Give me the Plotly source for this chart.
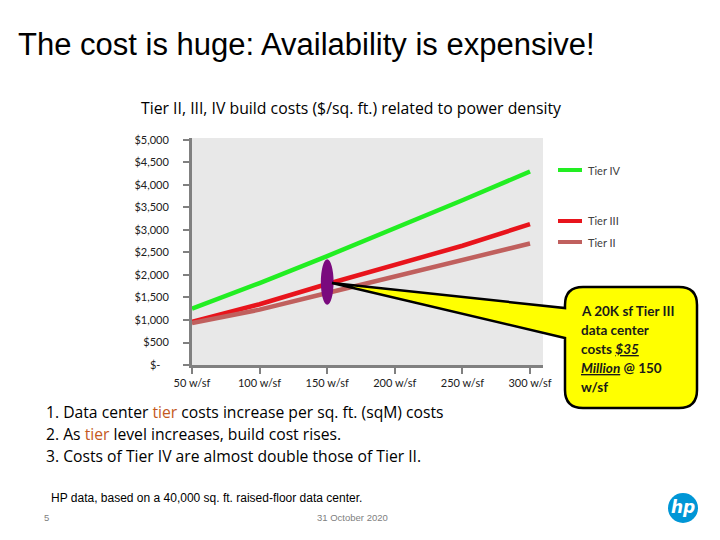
import plotly.graph_objects as go

W, H = 720, 540
def px(x): return x / W
def py(y): return 1 - y / H

power = [50, 100, 150, 200, 250, 300]
tick_labels = ["50 w/sf", "100 w/sf", "150 w/sf", "200 w/sf", "250 w/sf", "300 w/sf"]
tier4 = [1250, 1820, 2420, 3030, 3660, 4300]
tier3 = [960, 1350, 1800, 2230, 2650, 3130]
tier2 = [930, 1230, 1600, 1960, 2330, 2700]
y_ticks = [0, 500, 1000, 1500, 2000, 2500, 3000, 3500, 4000, 4500, 5000]
y_tick_text = ["$-\u00a0\u00a0\u00a0", "$500", "$1,000", "$1,500", "$2,000", "$2,500",
               "$3,000", "$3,500", "$4,000", "$4,500", "$5,000"]

series = [("Tier IV", tier4, "#22EE22", 170),
          ("Tier III", tier3, "#E8141C", 221),
          ("Tier II", tier2, "#C0605E", 242)]

CAL = "Lato, Carlito, Calibri, sans-serif"
OS = "Open Sans, Lato, sans-serif"
fig = go.Figure()
for name, vals, col, _ in series:
    fig.add_trace(go.Scatter(x=power, y=vals, mode="lines", name=name,
                             line=dict(color=col, width=4.5), showlegend=False))

shapes = []
annots = []
# legend
for name, vals, col, ly in series:
    shapes.append(dict(type="line", xref="paper", yref="paper", x0=px(558), x1=px(582),
                       y0=py(ly), y1=py(ly), line=dict(color=col, width=4)))
    annots.append(dict(text=name, xref="paper", yref="paper", x=px(586), y=py(ly),
                       xanchor="left", yanchor="middle", showarrow=False,
                       font=dict(family=CAL, size=11, color="#404040")))

# purple ellipse on the 150 w/sf point
shapes.append(dict(type="circle", xref="x", yref="y", x0=145.3, x1=154.7, y0=1340, y1=2350,
                   fillcolor="#7A0A7E", line=dict(width=0)))

# callout with pointer
r = 18
L, R, T, B = 565, 697, 287, 408
tipx, tipy = 332, 283
def P(x, y): return f"{px(x):.5f},{py(y):.5f}"
path = (f"M {P(tipx, tipy)} L {P(L, 308)} L {P(L, T + r)} Q {P(L, T)} {P(L + r, T)} "
        f"L {P(R - r, T)} Q {P(R, T)} {P(R, T + r)} L {P(R, B - r)} Q {P(R, B)} {P(R - r, B)} "
        f"L {P(L + r, B)} Q {P(L, B)} {P(L, B - r)} L {P(L, 338)} Z")
shapes.append(dict(type="path", xref="paper", yref="paper", path=path,
                   fillcolor="#FFFF00", line=dict(color="#000000", width=2.5)))

callout_lines = ["<b>A 20K sf Tier III</b>", "<b>data center</b>",
                 "<b>costs <i><span style='text-decoration:underline'>$35</span></i></b>",
                 "<b><i><span style='text-decoration:underline'>Million</span></i> @ 150</b>",
                 "<b>w/sf</b>"]
for i, t in enumerate(callout_lines):
    annots.append(dict(text=t, xref="paper", yref="paper", x=px(579), y=py(311 + i * 19),
                       xanchor="left", yanchor="middle", showarrow=False,
                       font=dict(family=CAL, size=13.5, color="#1a1a1a")))

# titles and text
annots.append(dict(text="The cost is huge: Availability is expensive!", xref="paper", yref="paper",
                   x=px(16), y=py(44), xanchor="left", yanchor="middle", showarrow=False,
                   font=dict(family="Liberation Sans, Arial", size=31, color="#000000")))
annots.append(dict(text="Tier II, III, IV build costs ($/sq. ft.) related to power density",
                   xref="paper", yref="paper", x=px(139), y=py(108), xanchor="left",
                   yanchor="middle", showarrow=False,
                   font=dict(family=OS, size=15.8, color="#000000")))
tier_c = "#C4591E"
bullets = [f"1. Data center <span style='color:{tier_c}'>tier</span> costs increase per sq. ft. (sqM) costs",
           f"2. As <span style='color:{tier_c}'>tier</span> level increases, build cost rises.",
           "3. Costs of Tier IV are almost double those of Tier II."]
for i, t in enumerate(bullets):
    annots.append(dict(text=t, xref="paper", yref="paper", x=px(44), y=py(412 + i * 22),
                       xanchor="left", yanchor="middle", showarrow=False,
                       font=dict(family=OS, size=15.7, color="#000000")))
annots.append(dict(text="HP data, based on a 40,000 sq. ft. raised-floor data center.",
                   xref="paper", yref="paper", x=px(49), y=py(498), xanchor="left",
                   yanchor="middle", showarrow=False,
                   font=dict(family="Liberation Sans Narrow, Liberation Sans", size=12, color="#000000")))
annots.append(dict(text="5", xref="paper", yref="paper", x=px(42), y=py(517), xanchor="left",
                   yanchor="middle", showarrow=False,
                   font=dict(family="Liberation Sans Narrow, Liberation Sans", size=9.5, color="#808080")))
annots.append(dict(text="31 October 2020", xref="paper", yref="paper", x=px(352), y=py(517),
                   xanchor="center", yanchor="middle", showarrow=False,
                   font=dict(family="Liberation Sans Narrow, Liberation Sans", size=9.5, color="#808080")))
# HP logo
shapes.append(dict(type="circle", xref="paper", yref="paper", x0=px(668), x1=px(698),
                   y0=py(523), y1=py(493), fillcolor="#0096D6", line=dict(width=0)))
annots.append(dict(text="<b><i>hp</i></b>", xref="paper", yref="paper", x=px(683), y=py(507),
                   xanchor="center", yanchor="middle", showarrow=False,
                   font=dict(family="DejaVu Sans", size=17, color="#FFFFFF")))

fig.update_layout(
    width=W, height=H, margin=dict(l=0, r=0, t=0, b=0),
    paper_bgcolor="white", plot_bgcolor="#E8E8E8",
    shapes=shapes, annotations=annots,
    xaxis=dict(domain=[px(192), px(543)], range=[50, 309.6], tickvals=power, ticktext=tick_labels,
               showgrid=False, zeroline=False, showline=True, linecolor="#808080", linewidth=3,
               ticks="outside", ticklen=6, tickcolor="#808080", tickwidth=1.5, automargin=False,
               tickfont=dict(family=CAL, size=11, color="#202020")),
    yaxis=dict(domain=[py(365), py(138)], range=[0, 5044], tickvals=y_ticks, ticktext=y_tick_text,
               showgrid=False, zeroline=False, showline=True, linecolor="#808080", linewidth=3,
               ticks="outside", ticklen=6, tickcolor="#808080", tickwidth=1.5, automargin=False,
               ticklabelstandoff=12,
               tickfont=dict(family=CAL, size=11, color="#202020")),
)
fig.write_html("out.html", config={"displayModeBar": False},
               post_script="document.body.style.margin='0';")
